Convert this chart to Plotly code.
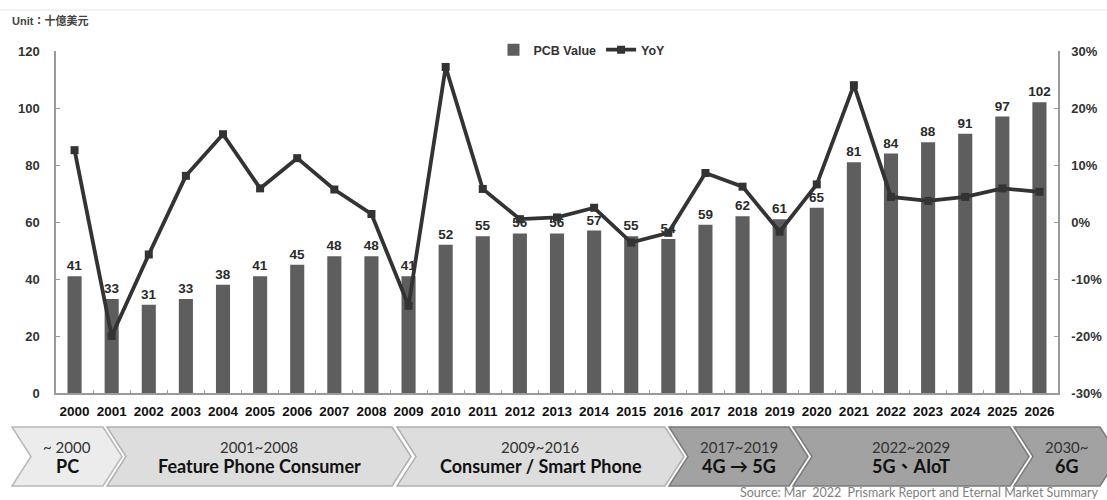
import plotly.graph_objects as go

# ---------------- data ----------------
years = [str(y) for y in range(2000, 2027)]
pcb_value = [41, 33, 31, 33, 38, 41, 45, 48, 48, 41, 52, 55, 56, 56, 57, 55, 54,
             59, 62, 61, 65, 81, 84, 88, 91, 97, 102]
yoy = [0.126, -0.200, -0.057, 0.081, 0.154, 0.059, 0.112, 0.057, 0.014,
       -0.147, 0.272, 0.058, 0.005, 0.008, 0.025, -0.036, -0.019,
       0.086, 0.062, -0.017, 0.066, 0.240, 0.044, 0.037, 0.044, 0.059, 0.053]
left_ticks = [0, 20, 40, 60, 80, 100, 120]
right_tickvals = [-0.3, -0.2, -0.1, 0.0, 0.1, 0.2, 0.3]
right_ticktext = ["-30%", "-20%", "-10%", "0%", "10%", "20%", "30%"]

era_years = ["~ 2000", "2001~2008", "2009~2016", "2017~2019", "2022~2029", "2030~"]
era_names = ["PC", "Feature Phone Consumer", "Consumer / Smart Phone",
             "4G \u2192 5G", "5G\u3001AIoT", "6G"]

# ---------------- layout geometry (pixels) ----------------
W, H = 1107, 500
PL, PR, PT, PB = 56, 1058, 51, 393


def px(x):
    return (x - PL) / (PR - PL)


def py(y):
    return (PB - y) / (PB - PT)


BOLD = dict(family="Liberation Sans, Arial, sans-serif", weight="bold")

fig = go.Figure()
fig.add_trace(go.Bar(
    x=years, y=pcb_value, name="PCB Value",
    marker=dict(color="#5e5e5e", line=dict(width=0)),
    width=0.38,
    text=[str(v) for v in pcb_value], textposition="outside",
    constraintext="none",
    textfont=dict(size=13.5, color="#2a2a2a", **BOLD),
    cliponaxis=False,
))
fig.add_trace(go.Scatter(
    x=years, y=yoy, name="YoY", yaxis="y2", mode="lines+markers",
    line=dict(color="#333333", width=3.8),
    marker=dict(symbol="square", size=8, color="#333333"),
    cliponaxis=False,
))

# ---------------- bottom era chevrons ----------------
seg_L = [12, 107, 397, 669, 793, 1014]
seg_R = [103, 392, 665, 789, 1010, 1100]
seg_fill = ["#ececec", "#dddddd", "#dddddd", "#a2a2a2", "#a2a2a2", "#a2a2a2"]
seg_edge = ["#b8b8b8", "#b0b0b0", "#b0b0b0", "#7a7a7a", "#7a7a7a", "#7a7a7a"]
TOP, BOT, D = 427, 486, 19
MID = (TOP + BOT) / 2
shapes = []
annotations = []
for i in range(len(era_names)):
    L, R = seg_L[i], seg_R[i]
    pts = [(L, TOP), (R, TOP), (R + D, MID), (R, BOT), (L, BOT), (L + D, MID)]
    path = "M " + " L ".join(f"{px(a):.5f},{py(b):.5f}" for a, b in pts) + " Z"
    shapes.append(dict(type="path", path=path, xref="paper", yref="paper",
                       fillcolor=seg_fill[i], line=dict(color=seg_edge[i], width=1.5),
                       layer="below"))
    cx = (L + D + R) / 2
    annotations.append(dict(x=px(cx), y=py(446.5), xref="paper", yref="paper",
                            text=era_years[i], showarrow=False,
                            font=dict(family="Lato, sans-serif", size=15, color="#333333"),
                            xanchor="center", yanchor="middle"))
    annotations.append(dict(x=px(cx), y=py(466), xref="paper", yref="paper",
                            text=era_names[i], showarrow=False,
                            font=dict(family="Lato, Noto Sans CJK TC, sans-serif", size=18,
                                      color="#111111", weight="bold"),
                            xanchor="center", yanchor="middle"))

# faint top rule
shapes.append(dict(type="line", xref="paper", yref="paper",
                   x0=px(0), x1=px(W), y0=py(10), y1=py(10),
                   line=dict(color="#e6e6e6", width=1)))

annotations.append(dict(x=px(10), y=py(20), xref="paper", yref="paper",
                        text="Unit\uff1a\u5341\u5104\u7f8e\u5143", showarrow=False,
                        font=dict(family="Liberation Sans, Noto Sans CJK TC, sans-serif",
                                  size=11, color="#444444", weight="bold"),
                        xanchor="left", yanchor="middle"))
annotations.append(dict(x=px(1101), y=py(492), xref="paper", yref="paper",
                        text="Source: Mar\u00a0 2022\u00a0 Prismark Report and Eternal Market Summary",
                        showarrow=False,
                        font=dict(family="Lato, sans-serif", size=12.5, color="#808080"),
                        xanchor="right", yanchor="middle"))

axis_font = dict(size=13, color="#333333", **BOLD)
fig.update_layout(
    width=W, height=H,
    margin=dict(l=PL, r=W - PR, t=PT, b=H - PB, pad=0),
    paper_bgcolor="white", plot_bgcolor="white",
    bargap=0.6,
    showlegend=True,
    legend=dict(orientation="h", x=px(582), xanchor="center", y=py(50), yanchor="middle",
                font=dict(size=12.5, color="#333333", **BOLD), bgcolor="rgba(0,0,0,0)",
                itemwidth=30, tracegroupgap=0),
    xaxis=dict(type="category", range=[-0.5, 26.5], showline=True, linecolor="#9a9a9a",
               linewidth=1.5, ticks="inside", tickson="boundaries", ticklen=3,
               tickcolor="#9a9a9a", showgrid=False, zeroline=False, tickangle=0,
               ticklabelstandoff=5, automargin=False,
               tickfont=dict(size=13.5, color="#111111", **BOLD)),
    yaxis=dict(range=[0, 120], tickvals=left_ticks, showline=True, linecolor="#9a9a9a",
               linewidth=1.5, ticks="inside", ticklen=4, tickcolor="#9a9a9a", automargin=False,
               showgrid=False, zeroline=False, tickfont=axis_font, ticklabelstandoff=12),
    yaxis2=dict(range=[-0.3, 0.3], overlaying="y", side="right", tickvals=right_tickvals,
                ticktext=right_ticktext, showline=True, linecolor="#9a9a9a", linewidth=1.5,
                ticks="inside", ticklen=4, tickcolor="#9a9a9a", showgrid=False, automargin=False,
                zeroline=False, tickfont=axis_font, ticklabelstandoff=9),
    shapes=shapes,
    annotations=annotations,
)

fig.write_html("out.html", config={"displayModeBar": False},
               post_script="document.body.style.margin='0';document.body.style.overflow='hidden';")
